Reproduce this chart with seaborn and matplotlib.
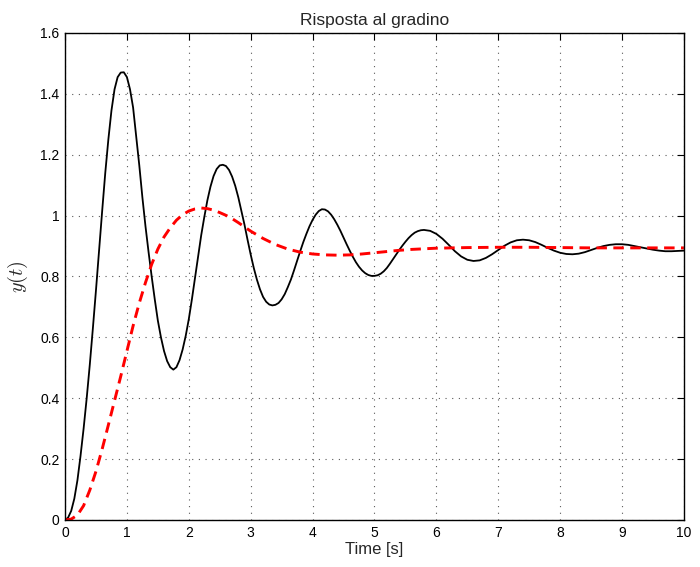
import matplotlib
matplotlib.use("Agg")
import matplotlib.pyplot as plt
import seaborn as sns
import pandas as pd
from matplotlib.ticker import FuncFormatter, FixedLocator

# ---- data ----
t_black = [0.00, 0.05, 0.10, 0.15, 0.20, 0.25, 0.30, 0.35, 0.40, 0.45,
           0.50, 0.55, 0.60, 0.65, 0.70, 0.75, 0.80, 0.85, 0.90, 0.95,
           1.00, 1.05, 1.10, 1.15, 1.20, 1.25, 1.30, 1.35, 1.40, 1.45,
           1.50, 1.55, 1.60, 1.65, 1.70, 1.75, 1.80, 1.85, 1.90, 1.95,
           2.00, 2.05, 2.10, 2.15, 2.20, 2.25, 2.30, 2.35, 2.40, 2.45,
           2.50, 2.55, 2.60, 2.65, 2.70, 2.75, 2.80, 2.85, 2.90, 2.95,
           3.00, 3.05, 3.10, 3.15, 3.20, 3.25, 3.30, 3.35, 3.40, 3.45,
           3.50, 3.55, 3.60, 3.65, 3.70, 3.75, 3.80, 3.85, 3.90, 3.95,
           4.00, 4.05, 4.10, 4.15, 4.20, 4.25, 4.30, 4.35, 4.40, 4.45,
           4.50, 4.55, 4.60, 4.65, 4.70, 4.75, 4.80, 4.85, 4.90, 4.95,
           5.00, 5.05, 5.10, 5.15, 5.20, 5.25, 5.30, 5.35, 5.40, 5.45,
           5.50, 5.55, 5.60, 5.65, 5.70, 5.75, 5.80,
           5.9, 6.0, 6.1, 6.2, 6.3, 6.4, 6.5, 6.6, 6.7, 6.8,
           6.9, 7.0, 7.1, 7.2, 7.3, 7.4, 7.5, 7.6, 7.7, 7.8,
           7.9, 8.0, 8.1, 8.2, 8.3, 8.4, 8.5, 8.6, 8.7, 8.8,
           8.9, 9.0, 9.1, 9.2, 9.3, 9.4, 9.5, 9.6, 9.7, 9.8,
           9.9, 10.0]
y_black = [0.000, 0.008, 0.030, 0.070, 0.130, 0.210, 0.300, 0.400, 0.510, 0.630,
           0.755, 0.885, 1.015, 1.140, 1.250, 1.345, 1.415, 1.455, 1.470, 1.471,
           1.455, 1.415, 1.355, 1.260, 1.165, 1.060, 0.965, 0.880, 0.800, 0.725,
           0.655, 0.600, 0.555, 0.522, 0.502, 0.494, 0.502, 0.525, 0.560, 0.605,
           0.660, 0.725, 0.795, 0.865, 0.935, 0.995, 1.050, 1.095, 1.130, 1.153,
           1.165, 1.167, 1.163, 1.150, 1.128, 1.098, 1.060, 1.015, 0.970, 0.920,
           0.872, 0.828, 0.790, 0.758, 0.733, 0.717, 0.708, 0.705, 0.707, 0.713,
           0.725, 0.742, 0.765, 0.790, 0.820, 0.852, 0.883, 0.913, 0.940, 0.965,
           0.986, 1.003, 1.015, 1.021, 1.020, 1.014, 1.003, 0.988, 0.970, 0.950,
           0.928, 0.906, 0.885, 0.865, 0.847, 0.832, 0.820, 0.811, 0.805, 0.802,
           0.802, 0.804, 0.809, 0.817, 0.828, 0.842, 0.857, 0.872, 0.887, 0.901,
           0.914, 0.926, 0.936, 0.944, 0.949, 0.952, 0.953,
           0.950, 0.940, 0.924, 0.904, 0.883, 0.866, 0.855, 0.851, 0.853, 0.861,
           0.873, 0.887, 0.901, 0.912, 0.919, 0.921, 0.919, 0.913, 0.904, 0.894,
           0.885, 0.878, 0.874, 0.873, 0.875, 0.880, 0.887, 0.894, 0.900, 0.904,
           0.906, 0.906, 0.904, 0.900, 0.896, 0.892, 0.888, 0.885, 0.883, 0.883,
           0.884, 0.885]

t_red = [0, 0.1, 0.2, 0.3, 0.4, 0.5, 0.6, 0.7, 0.8, 0.9, 1.0, 1.1, 1.2, 1.3, 1.4, 1.5, 1.6, 1.7,
         1.8, 1.9, 2.0, 2.1, 2.2, 2.3, 2.4, 2.5, 2.6, 2.7, 2.8, 2.9, 3.0, 3.2, 3.4, 3.6, 3.8, 4.0,
         4.2, 4.4, 4.6, 4.8, 5.0, 5.2, 5.4, 5.6, 5.8, 6.0, 6.5, 7.0, 7.5, 8.0, 8.5, 9.0, 9.5, 10.0]
y_red = [0, 0.003, 0.016, 0.047, 0.098, 0.16, 0.233, 0.312, 0.392, 0.472, 0.555, 0.638, 0.713, 0.78, 0.84, 0.89, 0.93, 0.96,
         0.985, 1.003, 1.015, 1.022, 1.025, 1.023, 1.018, 1.01, 1.001, 0.99, 0.977, 0.963, 0.949, 0.925, 0.905, 0.89, 0.88, 0.874,
         0.871, 0.87, 0.871, 0.874, 0.878, 0.882, 0.886, 0.889, 0.891, 0.893, 0.895, 0.896, 0.896, 0.895, 0.894, 0.894, 0.894, 0.894]

x_ticks = [0, 1, 2, 3, 4, 5, 6, 7, 8, 9, 10]
y_ticks = [0, 0.2, 0.4, 0.6, 0.8, 1.0, 1.2, 1.4, 1.6]

title = "Risposta al gradino"
xlabel = "Time [s]"
ylabel = r"$y(t)$"

assert len(t_black) == len(y_black) and len(t_red) == len(y_red)

# ---- styling ----
sns.set_style("white")
plt.rcParams['font.family'] = ['Liberation Sans', 'DejaVu Sans']
plt.rcParams['mathtext.fontset'] = 'cm'

fig = plt.figure(figsize=(7.0, 5.67), dpi=100)
ax = fig.add_axes([0.0929, 0.0829, 0.977 - 0.0929, 0.9418 - 0.0829])

df_black = pd.DataFrame({"t": t_black, "y": y_black})
df_red = pd.DataFrame({"t": t_red, "y": y_red})

sns.lineplot(data=df_black, x="t", y="y", color="black", linewidth=1.3,
             estimator=None, sort=False, ax=ax)
sns.lineplot(data=df_red, x="t", y="y", color="#ff0000", linewidth=2.1,
             estimator=None, sort=False, ax=ax)
ax.lines[-1].set_dashes((3.6, 2.2))

ax.set_xlim(0, 10)
ax.set_ylim(0, 1.6)
ax.xaxis.set_major_locator(FixedLocator(x_ticks))
ax.yaxis.set_major_locator(FixedLocator(y_ticks))
fmt = FuncFormatter(lambda v, p: f"{v:g}")
ax.xaxis.set_major_formatter(fmt)
ax.yaxis.set_major_formatter(fmt)

ax.grid(True, color="0.35", linestyle=(0, (1, 5)), linewidth=0.8)
ax.set_axisbelow(True)
for s in ax.spines.values():
    s.set_visible(True)
    s.set_color("black")
    s.set_linewidth(1.0)

ax.tick_params(direction="in", length=5, width=0.8, top=True, right=True,
               labelsize=10, colors="black", pad=4)

ax.set_title(title, fontsize=12.5, pad=6)
ax.set_xlabel(xlabel, fontsize=12, labelpad=2)
ax.set_ylabel(ylabel, fontsize=14.5, labelpad=7)

fig.savefig("out.png", dpi=100)
